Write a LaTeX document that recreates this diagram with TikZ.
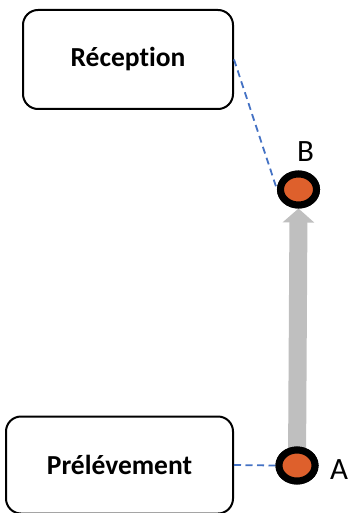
\documentclass[tikz,border=0pt]{standalone}
\usepackage{fontspec}
\setmainfont{Carlito}[Ligatures=NoCommon]
\usetikzlibrary{arrows.meta,shapes.geometric,backgrounds}
\definecolor{dotorange}{HTML}{DE602C}
\definecolor{arrowgray}{HTML}{BFBFBF}
\definecolor{dashblue}{HTML}{4472C4}
\tikzset{
  stepbox/.style={draw=black, line width=2pt, rounded corners=15pt, inner sep=0pt, font=\fontsize{27.5}{32}\selectfont\bfseries},
  dot/.style={ellipse, draw=black, fill=dotorange, line width=7pt, minimum width=36pt, minimum height=31pt, inner sep=0pt},
  ptlabel/.style={font=\fontsize{31}{36}\selectfont, inner sep=0pt},
  link/.style={draw=dashblue, line width=1.8pt, dash pattern=on 7pt off 4.5pt},
  flow/.style={draw=arrowgray, line width=18pt, -{Triangle[width=31pt,length=14pt]}}
}
\begin{document}
\begin{tikzpicture}[x=1pt,y=-1pt]
\useasboundingbox (0,0) rectangle (349,513);
\node[stepbox, minimum width=210pt, minimum height=99pt] (rec) at (128,59.5) {Réception};
\node[stepbox, minimum width=227pt, minimum height=97pt] (pre) at (119.5,465) {Prélévement};
\node[dot] (B) at (298.5,189.5) {};
\node[dot] (A) at (297,465.5) {};
\node[ptlabel] (lb) at (305.5,152) {B};
\node[ptlabel] (la) at (339,470) {A};
\begin{scope}[on background layer]
\draw[flow] (A.center) -- (B.south);
\end{scope}
\draw[link] (rec.east) -- (B.west);
\draw[link] (pre.east) -- (A.west);
\node[dot] at (B) {};
\node[dot] at (A) {};
\end{tikzpicture}
\end{document}
